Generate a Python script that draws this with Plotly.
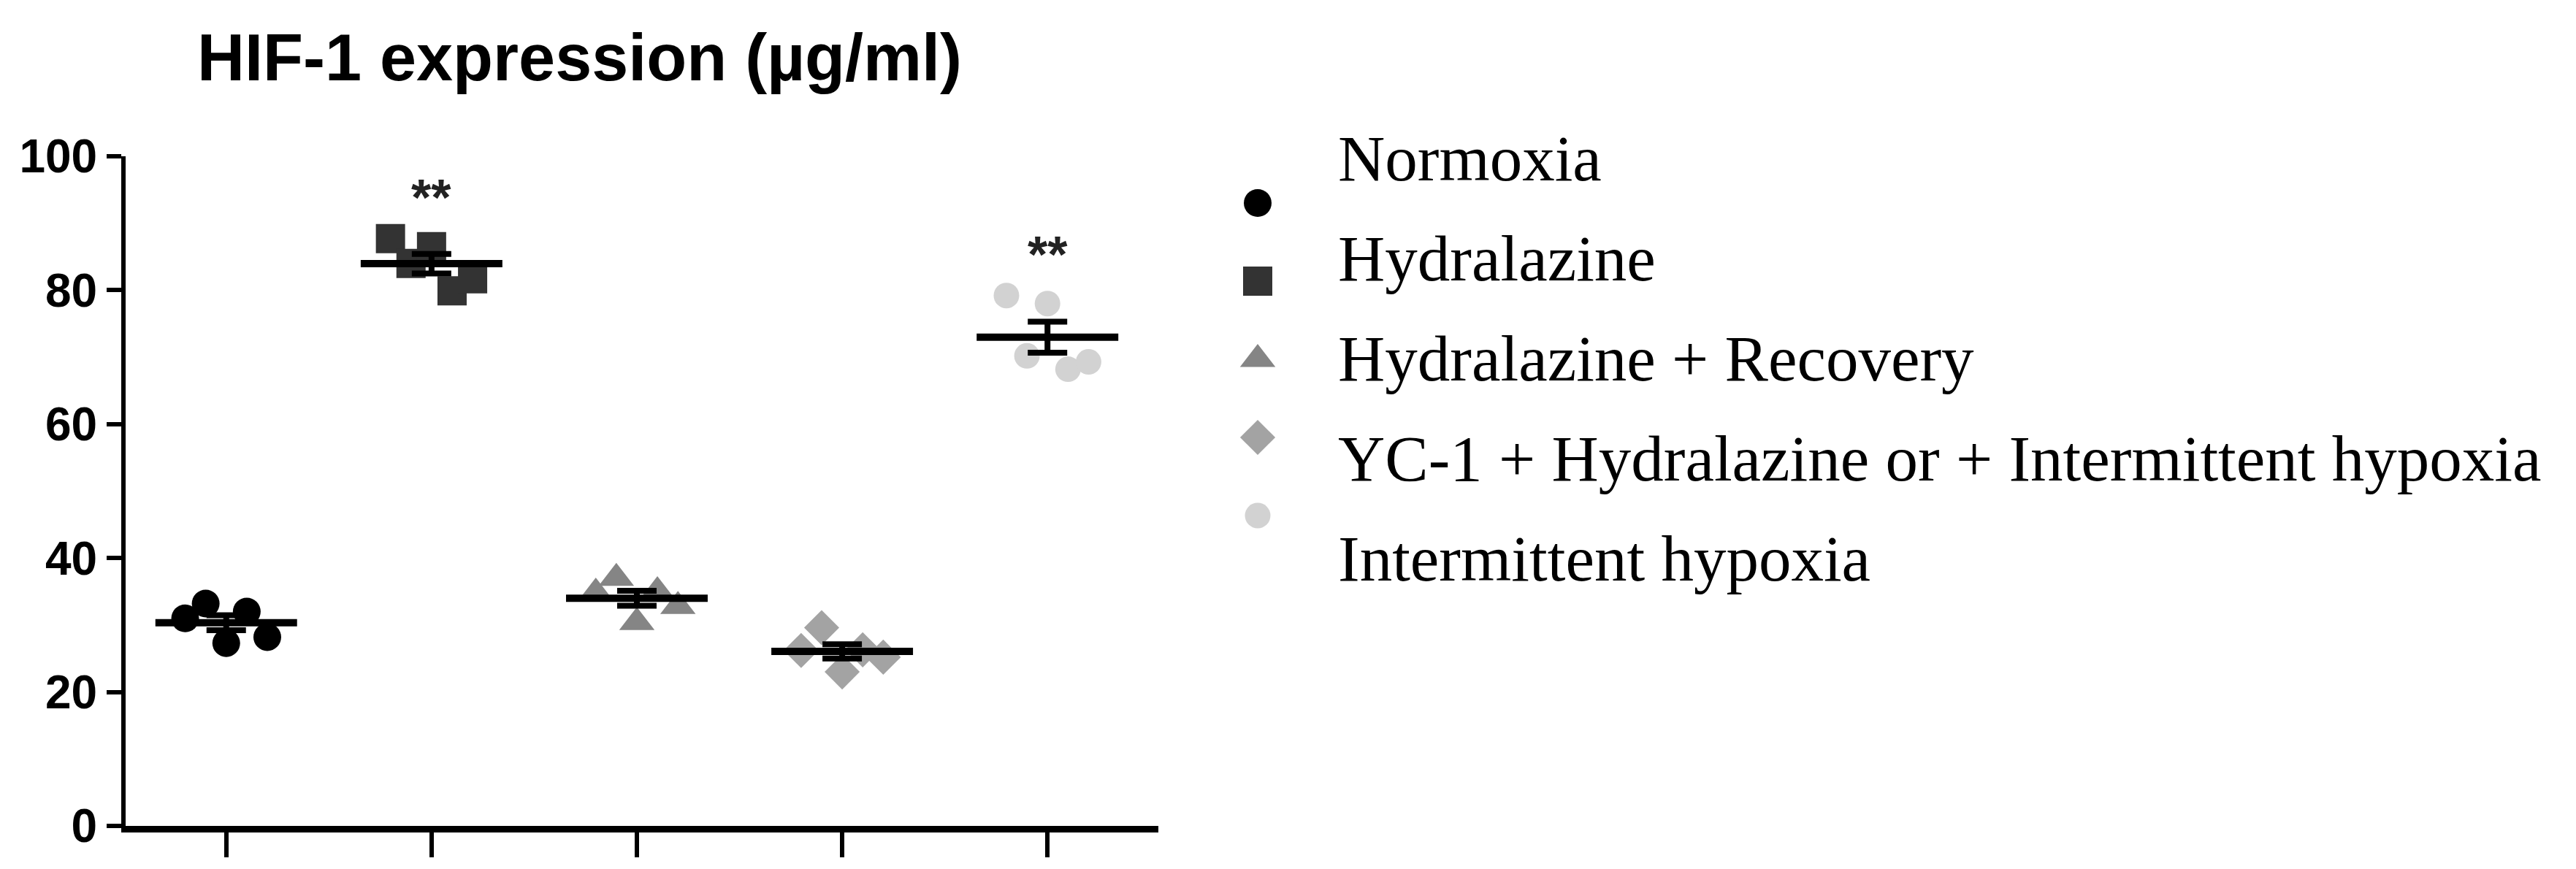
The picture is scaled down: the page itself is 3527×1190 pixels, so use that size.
import numpy as np
import plotly.graph_objects as go

# ---------------- data ----------------
groups = ["Normoxia", "Hydralazine", "Hydralazine + Recovery",
          "YC-1 + Hydralazine or + Intermittent hypoxia", "Intermittent hypoxia"]
# individual values, listed left-to-right as they appear in each column
normoxia = [31.0, 33.2, 27.3, 32.0, 28.2]
hydralazine = [87.7, 84.0, 86.5, 79.9, 81.7]
hydralazine_recovery = [34.8, 37.0, 30.4, 35.0, 32.8]
yc1_hydralazine_ih = [26.2, 29.6, 23.0, 26.3, 25.2]
intermittent_hypoxia = [79.2, 70.2, 78.0, 68.2, 69.3]
significance = ["", "**", "", "", "**"]
y_ticks = [0, 20, 40, 60, 80, 100]
title_text = "HIF-1 expression (µg/ml)"

series = [normoxia, hydralazine, hydralazine_recovery, yc1_hydralazine_ih, intermittent_hypoxia]

# ---------------- style ----------------
W, H = 3527, 1190
OFF = 8  # page body margin
symbols = ["circle", "square", "triangle-up", "diamond", "circle"]
colors = ["#000000", "#333333", "#858585", "#a3a3a3", "#d2d2d2"]
sizes = [38, 40, 42, 37, 35]
SANS = "Liberation Sans, Arial, sans-serif"
SERIF = "Liberation Serif, Times New Roman, serif"

px_left, px_right, px_top, px_bottom = 172 - OFF, 1586 - OFF, 214 - OFF, 1131 - OFF

fig = go.Figure()

# individual points
for i, vals in enumerate(series):
    n = len(vals)
    offs = np.linspace(-0.2, 0.2, n)
    fig.add_trace(go.Scatter(
        x=i + offs, y=vals, mode="markers", name=groups[i],
        marker=dict(symbol=symbols[i], color=colors[i], size=sizes[i],
                    opacity=1, line=dict(width=0)),
        xaxis="x", yaxis="y", showlegend=False, hoverinfo="y"))

# mean lines and SEM bars
for i, vals in enumerate(series):
    v = np.asarray(vals, dtype=float)
    m = v.mean()
    sem = v.std(ddof=1) / np.sqrt(len(v))
    fig.add_trace(go.Scatter(
        x=[i - 0.345, i + 0.345], y=[m, m], mode="lines",
        line=dict(color="black", width=10), xaxis="x", yaxis="y",
        showlegend=False, hoverinfo="skip"))
    fig.add_trace(go.Scatter(
        x=[i], y=[m], mode="markers",
        marker=dict(size=1, color="rgba(0,0,0,0)"),
        error_y=dict(type="data", array=[sem], visible=True, color="black",
                     thickness=8, width=27),
        xaxis="x", yaxis="y", showlegend=False, hoverinfo="skip"))

# significance stars
for i, (vals, sig) in enumerate(zip(series, significance)):
    if sig:
        fig.add_annotation(x=i, y=max(vals) + 7, xref="x", yref="y", text=sig,
                           showarrow=False, xanchor="center", yanchor="middle", yshift=-8,
                           font=dict(family=SANS, size=70, color="#222222", weight="bold"))

# manual legend: symbols on an overlay pixel axis, labels as annotations
leg_sym_x, leg_sym_y0, leg_sym_dy = 1722 - OFF, 278 - OFF, 107
leg_txt_x, leg_txt_y0, leg_txt_dy = 1830 - OFF, 217 - OFF, 137
for j, name in enumerate(groups):
    fig.add_trace(go.Scatter(
        x=[leg_sym_x], y=[leg_sym_y0 + leg_sym_dy * j], mode="markers", name=name,
        marker=dict(symbol=symbols[j], color=colors[j], size=sizes[j],
                    opacity=1, line=dict(width=0)),
        xaxis="x2", yaxis="y2", showlegend=False, hoverinfo="skip"))
    fig.add_annotation(x=leg_txt_x / W, y=1 - (leg_txt_y0 + leg_txt_dy * j) / H,
                       xref="paper", yref="paper", text=name, showarrow=False,
                       xanchor="left", yanchor="middle",
                       font=dict(family=SERIF, size=89, color="black"))

# title
fig.add_annotation(x=(793 - OFF) / W, y=1 - (79 - OFF) / H, xref="paper", yref="paper",
                   text=title_text, showarrow=False, xanchor="center", yanchor="middle",
                   font=dict(family=SANS, size=90, color="black", weight="bold"))

fig.update_layout(
    template="none",
    width=W, height=H, margin=dict(l=0, r=0, t=0, b=0, pad=0), autosize=False,
    paper_bgcolor="white", plot_bgcolor="rgba(0,0,0,0)", showlegend=False,
    xaxis=dict(domain=[px_left / W, px_right / W], range=[-0.49, 4.54], automargin=False,
               tickvals=list(range(len(groups))), showticklabels=False,
               ticks="outside", ticklen=34, tickwidth=6, tickcolor="black",
               showline=True, linewidth=9, linecolor="black",
               showgrid=False, zeroline=False, fixedrange=True),
    yaxis=dict(domain=[1 - px_bottom / H, 1 - px_top / H], range=[0, 100], automargin=False,
               tickvals=y_ticks, ticks="outside", ticklen=20, tickwidth=6, tickcolor="black",
               showline=True, linewidth=6, linecolor="black",
               showgrid=False, zeroline=False, fixedrange=True,
               tickfont=dict(family=SANS, size=64, color="black", weight="bold")),
    xaxis2=dict(domain=[0, 1], range=[0, W], visible=False, anchor="y2",
                fixedrange=True, automargin=False),
    yaxis2=dict(domain=[0, 1], range=[H, 0], visible=False, anchor="x2",
                fixedrange=True, automargin=False),
)

fig.write_html("out.html")
